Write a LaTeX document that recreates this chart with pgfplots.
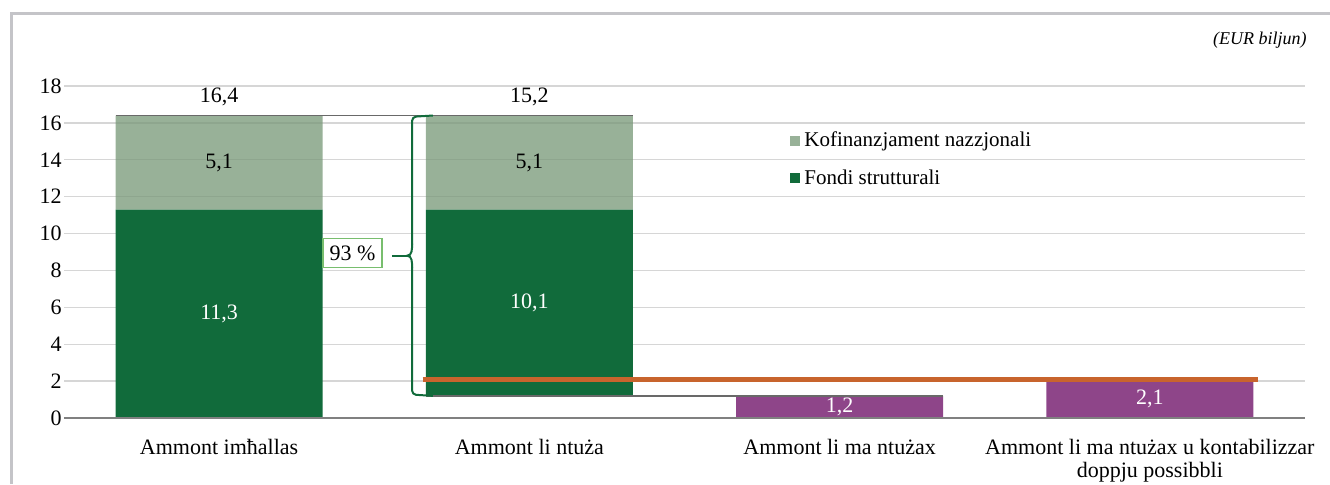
\documentclass[border=0pt]{standalone}
\usepackage{fontspec}
\setmainfont{Liberation Serif}
\usepackage{pgfplots}
\pgfplotsset{compat=1.18}
\definecolor{dgreen}{RGB}{17,107,59}
\definecolor{lgreen}{RGB}{118,151,118}
\definecolor{purp}{RGB}{142,69,137}
\definecolor{orng}{RGB}{200,100,45}
\definecolor{framegray}{RGB}{196,196,200}
\definecolor{gridgray}{RGB}{214,214,214}
\definecolor{conn}{RGB}{105,105,105}
\definecolor{zerogray}{RGB}{128,128,128}
\definecolor{boxgreen}{RGB}{120,190,110}
\pgfplotsset{base/.style={at={(32pt,33pt)}, anchor=south west, scale only axis,
  width=620.5pt, height=166pt, xmin=-0.5, xmax=3.5, ymin=0, ymax=18, clip=false},
  sqlegend/.style={legend image code/.code={\fill[##1] (0pt,-2.5pt) rectangle (5pt,2.5pt);}}}
\begin{document}
\begin{tikzpicture}[font=\fontsize{11}{13}\selectfont]
\path[use as bounding box] (0pt,0pt) rectangle (665pt,242pt);
\draw[framegray, line width=1.5pt] (5.5pt,0pt) -- (5.5pt,235.5pt) -- (665pt,235.5pt);
\node[anchor=east, font=\itshape\fontsize{9}{11}\selectfont, inner sep=0pt] at (653.5pt,222pt) {(EUR biljun)};

\begin{axis}[base, ybar stacked, bar width=0.667,
  axis line style={draw=none}, tick style={draw=none}, major tick length=0pt,
  ytick={0,2,...,18}, ymajorgrids, grid style={gridgray, line width=0.7pt},
  xtick={0,1,2,3},
  xticklabels={{Ammont imħallas},{Ammont li ntuża},{Ammont li ma ntużax},{Ammont li ma ntużax u kontabilizzar\\doppju possibbli}},
  xticklabel style={align=center, yshift=-7pt, font=\fontsize{11}{11.5}\selectfont},
  yticklabel style={inner sep=1pt, font=\fontsize{11}{13}\selectfont},
  /pgf/number format/assume math mode=true,
  legend style={at={(0.585,0.875)}, anchor=north west, draw=none, fill=none,
    inner sep=0pt, row sep=6pt, font=\fontsize{10.5}{12}\selectfont},
  legend cell align=left, reverse legend,
]
\addplot[draw=none, fill=none, forget plot] coordinates {(0,0) (1,1.2) (2,0) (3,0)};
\addplot[draw=none, fill=dgreen, sqlegend]
  coordinates {(0,11.3) (1,10.1) (2,0) (3,0)};
\addlegendentry{Fondi strutturali}
\addplot[draw=none, fill=lgreen, fill opacity=0.75, sqlegend]
  coordinates {(0,5.1) (1,5.1) (2,0) (3,0)};
\addlegendentry{Kofinanzjament nazzjonali}
\addplot[draw=none, fill=purp, forget plot] coordinates {(0,0) (1,0) (2,1.2) (3,2.1)};
\end{axis}

\begin{axis}[base, hide axis]
\addplot[zerogray, line width=0.8pt] coordinates {(-0.5,0) (3.5,0)};
\addplot[conn, line width=0.9pt] coordinates {(-0.333,16.4) (1.333,16.4)};
\addplot[conn, line width=0.9pt] coordinates {(0.667,1.2) (2.333,1.2)};
\addplot[orng, line width=2.5pt] coordinates {(0.656,2.1) (3.35,2.1)};
\draw[dgreen, line width=1pt, rounded corners=2pt] (axis cs:0.689,16.4) -- (axis cs:0.622,16.33) -- (axis cs:0.622,9.4);
\draw[dgreen, line width=1pt] (axis cs:0.622,9.45) to[out=-90,in=0] (axis cs:0.606,8.8) to[out=0,in=90] (axis cs:0.622,8.15);
\draw[dgreen, line width=1pt, rounded corners=2pt] (axis cs:0.622,8.2) -- (axis cs:0.622,1.27) -- (axis cs:0.689,1.2);
\draw[dgreen, line width=1pt] (axis cs:0.557,8.8) -- (axis cs:0.608,8.8);
\node[draw=boxgreen, fill=white, line width=0.6pt, minimum width=29.5pt, minimum height=14.5pt, inner sep=1pt] at (axis cs:0.43,8.95) {93 \%};
\node at (axis cs:0,17.4) {16,4};
\node at (axis cs:1,17.4) {15,2};
\node at (axis cs:0,13.85) {5,1};
\node at (axis cs:1,13.85) {5,1};
\node[white] at (axis cs:0,5.65) {11,3};
\node[white] at (axis cs:1,6.25) {10,1};
\node[white] at (axis cs:2,0.6) {1,2};
\node[white] at (axis cs:3,1.05) {2,1};
\end{axis}
\end{tikzpicture}
\end{document}
